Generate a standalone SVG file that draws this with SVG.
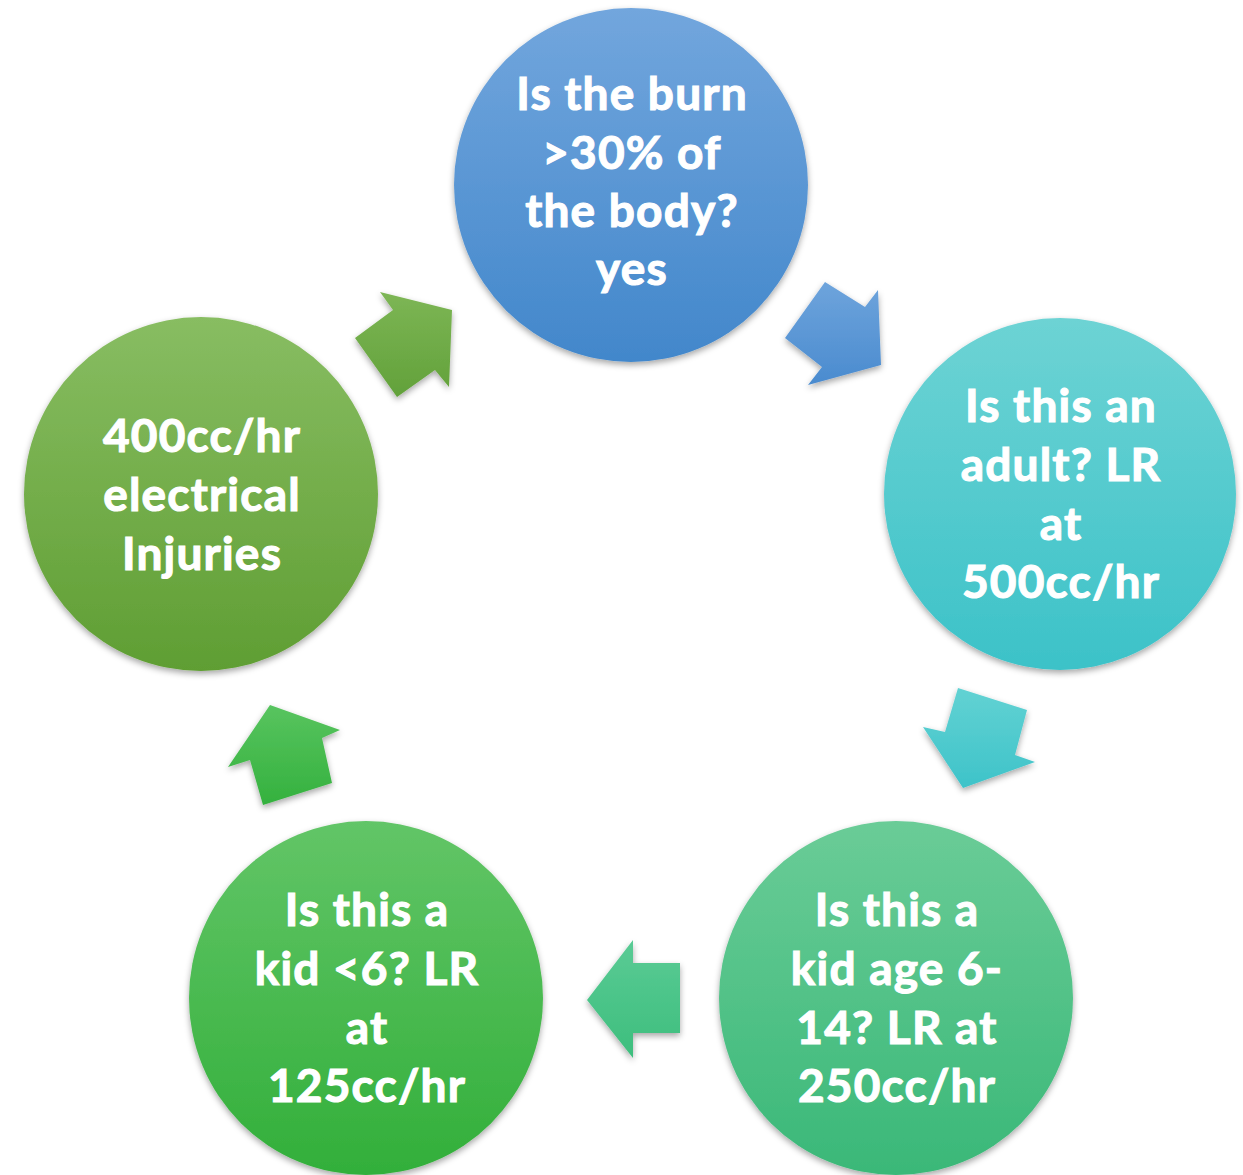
<svg xmlns="http://www.w3.org/2000/svg" width="1243" height="1175" viewBox="0 0 1243 1175">
<defs>
<linearGradient id="g1" x1="0" y1="0" x2="0" y2="1"><stop offset="0" stop-color="#72A6DD"/><stop offset="1" stop-color="#4287CB"/></linearGradient>
<linearGradient id="g2" x1="0" y1="0" x2="0" y2="1"><stop offset="0" stop-color="#6DD3D4"/><stop offset="1" stop-color="#3CC2C8"/></linearGradient>
<linearGradient id="g3" x1="0" y1="0" x2="0" y2="1"><stop offset="0" stop-color="#6ACC97"/><stop offset="1" stop-color="#3AB878"/></linearGradient>
<linearGradient id="g4" x1="0" y1="0" x2="0" y2="1"><stop offset="0" stop-color="#62C567"/><stop offset="1" stop-color="#32AF3A"/></linearGradient>
<linearGradient id="g5" x1="0" y1="0" x2="0" y2="1"><stop offset="0" stop-color="#88BD62"/><stop offset="1" stop-color="#5F9E33"/></linearGradient>
<linearGradient id="a1" x1="0" y1="0" x2="0" y2="1"><stop offset="0" stop-color="#6EA4DC"/><stop offset="1" stop-color="#4A8BCF"/></linearGradient>
<linearGradient id="a2" x1="0" y1="0" x2="0" y2="1"><stop offset="0" stop-color="#62D2D3"/><stop offset="1" stop-color="#3EC3C9"/></linearGradient>
<linearGradient id="a3" x1="0" y1="0" x2="0" y2="1"><stop offset="0" stop-color="#5ACB95"/><stop offset="1" stop-color="#3DBE7D"/></linearGradient>
<linearGradient id="a4" x1="0" y1="0" x2="0" y2="1"><stop offset="0" stop-color="#58C45F"/><stop offset="1" stop-color="#34B13E"/></linearGradient>
<linearGradient id="a5" x1="0" y1="0" x2="0" y2="1"><stop offset="0" stop-color="#7DB655"/><stop offset="1" stop-color="#62A13A"/></linearGradient>
<filter id="sh" x="-20%" y="-20%" width="140%" height="140%"><feDropShadow dx="0" dy="3" stdDeviation="3" flood-color="#000" flood-opacity="0.35"/></filter>
</defs>
<style>
.t{font-family:Lato,"Open Sans","Liberation Sans",sans-serif;font-weight:bold;font-size:46px;letter-spacing:1.2px;fill:#FFFFFF;stroke:#FFFFFF;stroke-width:1.1px;text-anchor:middle}
</style>
<rect width="1243" height="1175" fill="#FFFFFF"/>
<g id="connectors" filter="url(#sh)">
<polygon points="785,338 825,282 865,307 878,290 881,365 808,385 822,367" fill="url(#a1)"/>
<polygon points="958,688 1027,710 1015,755 1035,762 963,788 923,727 945,732" fill="url(#a2)"/>
<polygon points="680,963 680,1033 633,1033 633,1058 587,1000 633,940 633,963" fill="url(#a3)"/>
<polygon points="270,705 340,730 322,738 332,783 263,805 250,760 228,767" fill="url(#a4)"/>
<polygon points="380,292 452,310 449,387 435,370 397,397 355,338 393,310" fill="url(#a5)"/>
</g>
<g id="node1">
<circle cx="631" cy="185" r="177" fill="url(#g1)" filter="url(#sh)"/>
<text class="t" x="632" y="110">Is the burn</text>
<text class="t" x="632" y="169">&gt;30% of</text>
<text class="t" x="632" y="227">the body?</text>
<text class="t" x="632" y="285">yes</text>
</g>
<g id="node2">
<circle cx="1060" cy="494" r="176" fill="url(#g2)" filter="url(#sh)"/>
<text class="t" x="1061" y="422">Is this an</text>
<text class="t" x="1061" y="481">adult? LR</text>
<text class="t" x="1061" y="540">at</text>
<text class="t" x="1061" y="598">500cc/hr</text>
</g>
<g id="node3">
<circle cx="896" cy="998" r="177" fill="url(#g3)" filter="url(#sh)"/>
<text class="t" x="897" y="926">Is this a</text>
<text class="t" x="897" y="985">kid age 6-</text>
<text class="t" x="897" y="1044">14? LR at</text>
<text class="t" x="897" y="1102">250cc/hr</text>
</g>
<g id="node4">
<circle cx="366" cy="998" r="177" fill="url(#g4)" filter="url(#sh)"/>
<text class="t" x="367" y="926">Is this a</text>
<text class="t" x="367" y="985">kid &lt;6? LR</text>
<text class="t" x="367" y="1044">at</text>
<text class="t" x="367" y="1102">125cc/hr</text>
</g>
<g id="node5">
<circle cx="201" cy="494" r="177" fill="url(#g5)" filter="url(#sh)"/>
<text class="t" x="202" y="452">400cc/hr</text>
<text class="t" x="202" y="511">electrical</text>
<text class="t" x="202" y="570">Injuries</text>
</g>
</svg>
